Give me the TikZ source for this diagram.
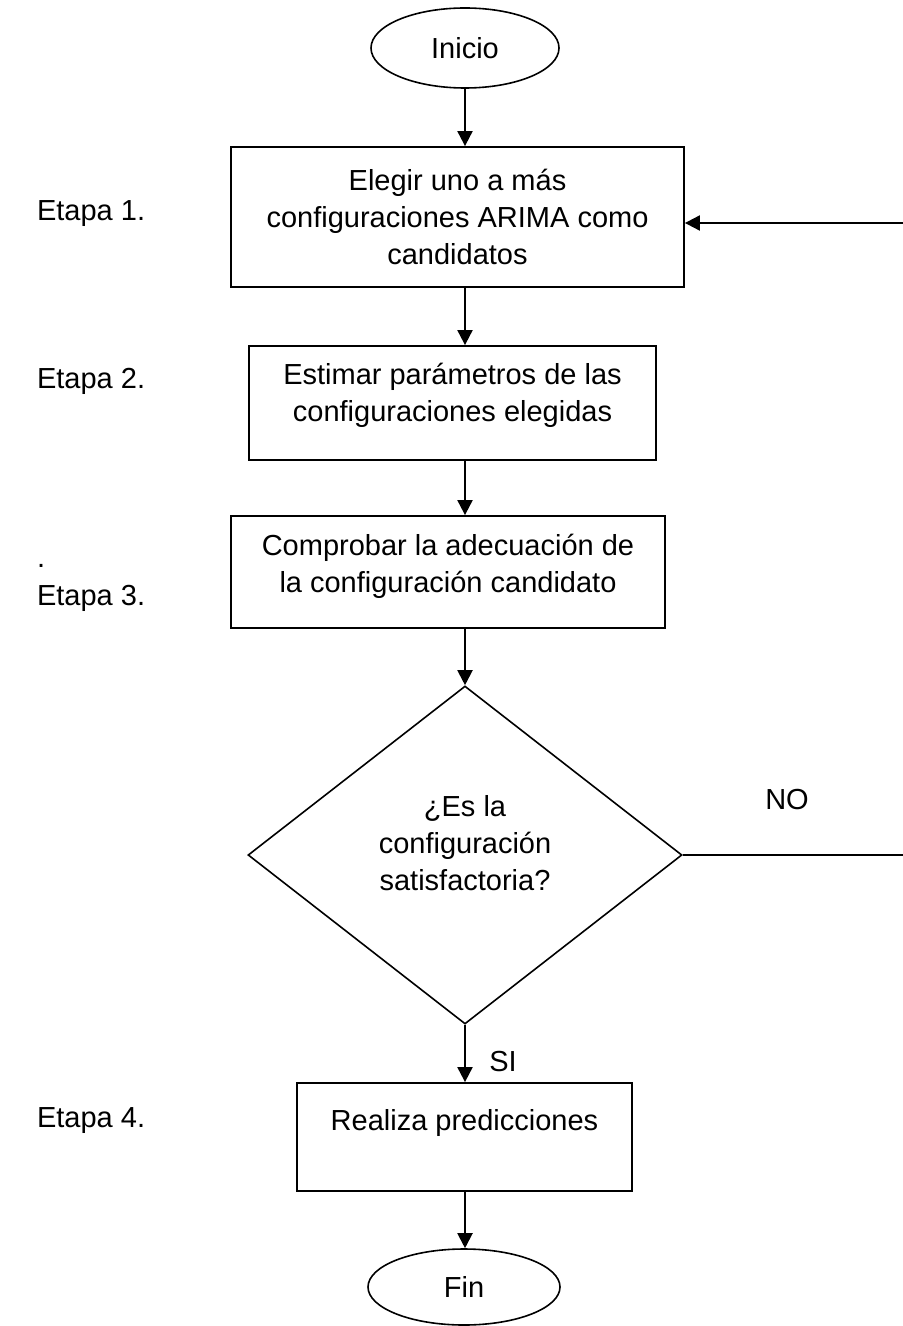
\documentclass[tikz,border=0pt]{standalone}
\usepackage{fontspec}
\setmainfont{Liberation Sans}
\usetikzlibrary{shapes.geometric,arrows.meta}
\tikzset{
  txt/.style={font=\fontsize{14.5pt}{18.5pt}\selectfont},
  caja/.style={txt,draw,line width=0.9pt,align=center,inner sep=0pt},
  inicfin/.style={txt,draw,ellipse,line width=0.8pt,inner sep=0pt,minimum width=94pt,minimum height=40pt},
  decision/.style={txt,draw,diamond,line width=0.8pt,align=center,inner sep=0pt,shape aspect=1.28,minimum width=217pt,minimum height=169pt},
  flecha/.style={line width=1pt,-{Triangle[length=7.5pt,width=7.5pt]}}
}

\begin{document}
\begin{tikzpicture}[x=0.5pt,y=-0.5pt]
\useasboundingbox (0,0) rectangle (902,1326);
\node[inicfin] (inicio) at (465,48) {Inicio};
\node[caja,minimum width=226.5pt,minimum height=70pt] (elegir) at (457.5,217) {Elegir uno a más\\configuraciones ARIMA como\\candidatos};
\node[caja,minimum width=203.5pt,minimum height=57pt,text depth=11pt] (estimar) at (452.5,403) {Estimar parámetros de las\\configuraciones elegidas};
\node[caja,minimum width=217pt,minimum height=56pt,text depth=9pt] (comprobar) at (448,572) {Comprobar la adecuación de\\la configuración candidato};
\node[decision,text depth=12pt] (satis) at (465,855) {¿Es la\\configuración\\satisfactoria?};
\node[caja,minimum width=167.5pt,minimum height=54pt,text depth=17.5pt] (predic) at (464.5,1137) {Realiza predicciones};
\node[inicfin,minimum width=96pt,minimum height=38pt] (fin) at (464,1287) {Fin};
\coordinate (retorno) at (905,223);

\node[txt,anchor=west] (etapa1) at (30,214) {Etapa 1.};
\node[txt,anchor=west] (etapa2) at (30,381) {Etapa 2.};
\node[txt,anchor=west] (punto) at (30,566) {.};
\node[txt,anchor=west] (etapa3) at (30,598) {Etapa 3.};
\node[txt,anchor=west] (etapa4) at (30,1121) {Etapa 4.};
\node[txt] (no) at (787,800) {NO};
\node[txt] (si) at (503,1062) {SI};

\draw[flecha] (inicio.south) -- (inicio.south |- elegir.north);
\draw[flecha] (inicio.south |- elegir.south) -- (inicio.south |- estimar.north);
\draw[flecha] (inicio.south |- estimar.south) -- (inicio.south |- comprobar.north);
\draw[flecha] (satis.north |- comprobar.south) -- (satis.north);
\draw[flecha] (satis.south) -- (satis.south |- predic.north);
\draw[flecha] (satis.south |- predic.south) -- (fin.north -| satis.south);
\draw[flecha] (satis.east) -- (satis.east -| retorno) -- (retorno) -- (retorno -| elegir.east);
\end{tikzpicture}
\end{document}
